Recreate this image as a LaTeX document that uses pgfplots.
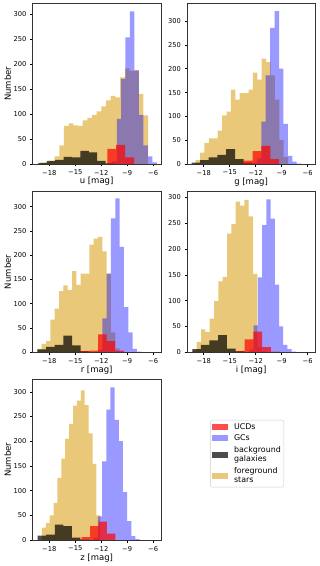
\documentclass[border=0pt]{standalone}
\usepackage{fontspec}
\setmainfont{DejaVu Sans}
\usepackage{pgfplots}
\pgfplotsset{compat=1.18}

\definecolor{fgstar}{RGB}{218,165,32}
\definecolor{ucdred}{RGB}{255,0,0}
\definecolor{gcblue}{RGB}{0,0,255}
\newcommand\ls{\rule[-2.3pt]{0pt}{7pt}}

\pgfplotsset{
  panel/.style={
    scale only axis, width=128.3pt, height=160.5pt,
    xmin=-19.93, xmax=-5.12, ymin=0,
    xtick={-18,-15,-12,-9,-6},
    xticklabels={−18,−15,−12,−9,−6},
    ytick={0,50,...,300},
    tick align=outside, tick pos=left,
    major tick length=2.5pt,
    tick style={black, line width=0.5pt},
    axis line style={black!80, line width=0.6pt},
    tick label style={font=\fontsize{6.7}{8}\selectfont},
    /pgf/number format/assume math mode=true,
    label style={font=\fontsize{8.5}{10}\selectfont},
    xlabel style={at={(rel axis cs:0.5,-0.11)}, anchor=center},
    ylabel style={at={(rel axis cs:-0.193,0.5)}, anchor=center},
    axis on top,
    legend image code/.code={\fill[##1, sharp corners] (0pt,-3pt) rectangle (16pt,3pt);},
  },
  fg/.style={ybar interval, fill=fgstar, fill opacity=0.6, draw=none},
  bg/.style={ybar interval, fill=black, fill opacity=0.7, draw=none},
  gc/.style={ybar interval, fill=gcblue, fill opacity=0.4, draw=none},
  ucd/.style={ybar interval, fill=ucdred, fill opacity=0.7, draw=none},
}

\begin{document}
\begin{tikzpicture}
\useasboundingbox (0,0) rectangle (320pt,566pt);

% u band
\begin{axis}[panel, at={(32.5pt,562.5pt)}, anchor=north west, ymax=321,
  xlabel={u [mag]}, ylabel={Number}]
\addplot[fg] coordinates {(-19.00,2)(-18.46,3)(-17.92,6)(-17.38,15)(-16.84,37)(-16.30,76)(-15.76,81)(-15.22,77)(-14.68,76)(-14.14,87)(-13.60,92)(-13.06,98)(-12.52,105)(-11.98,115)(-11.44,127)(-10.90,136)(-10.36,133)(-9.82,173)(-9.28,191)(-8.74,186)(-8.20,187)(-7.66,140)(-7.12,97)(-6.58,0)};
\addplot[bg] coordinates {(-19.25,2)(-18.28,6)(-17.31,8)(-16.34,14)(-15.37,13)(-14.40,26)(-13.43,23)(-12.46,6)(-11.49,1)(-10.52,0)};
\addplot[gc] coordinates {(-11.22,2)(-10.70,5)(-10.20,90)(-9.70,170)(-9.20,253)(-8.68,305)(-8.16,187)(-7.64,98)(-7.12,37)(-6.60,15)(-6.08,3)(-5.56,0)};
\addplot[ucd] coordinates {(-11.28,30)(-10.28,38)(-9.24,13)(-8.20,0)};
\end{axis}

% g band
\begin{axis}[panel, at={(187pt,562.5pt)}, anchor=north west, ymax=337,
  xlabel={g [mag]}]
\addplot[fg] coordinates {(-18.93,8)(-18.42,24)(-17.92,44)(-17.41,54)(-16.90,54)(-16.39,70)(-15.88,102)(-15.37,110)(-14.87,156)(-14.36,135)(-13.85,149)(-13.34,149)(-12.83,156)(-12.32,192)(-11.82,177)(-11.31,221)(-10.80,214)(-10.29,186)(-9.78,135)(-9.27,50)(-8.77,15)(-8.26,0)};
\addplot[bg] coordinates {(-19.39,3)(-18.42,8)(-17.44,14)(-16.42,19)(-15.40,31)(-14.38,10)(-13.40,3)(-12.40,0)};
\addplot[gc] coordinates {(-12.37,3)(-11.86,12)(-11.35,89)(-10.84,186)(-10.33,286)(-9.82,321)(-9.31,200)(-8.80,84)(-8.29,17)(-7.78,5)(-7.27,1)(-6.76,0)};
\addplot[ucd] coordinates {(-13.41,7)(-12.36,27)(-11.34,38)(-10.32,10)(-9.30,0)};
\end{axis}

% r band
\begin{axis}[panel, at={(32.5pt,374.3pt)}, anchor=north west, ymax=331,
  xlabel={r [mag]}, ylabel={Number}]
\addplot[fg] coordinates {(-19.37,7)(-18.87,17)(-18.37,23)(-17.87,67)(-17.37,90)(-16.87,126)(-16.37,138)(-15.87,128)(-15.37,167)(-14.87,139)(-14.37,162)(-13.87,162)(-13.37,222)(-12.87,234)(-12.37,238)(-11.87,208)(-11.37,162)(-10.87,41)(-10.37,8)(-9.87,0)};
\addplot[bg] coordinates {(-19.37,6)(-18.37,11)(-17.37,15)(-16.37,34)(-15.37,14)(-14.37,2)(-13.37,0)};
\addplot[gc] coordinates {(-12.37,5)(-11.87,70)(-11.37,162)(-10.87,276)(-10.37,317)(-9.87,217)(-9.37,93)(-8.87,41)(-8.37,7)(-7.87,1)(-7.37,0)};
\addplot[ucd] coordinates {(-14.34,2)(-13.35,3)(-12.36,37)(-11.37,23)(-10.38,3)(-9.38,0)};
\end{axis}

% i band
\begin{axis}[panel, at={(187pt,374.3pt)}, anchor=north west, ymax=311,
  xlabel={i [mag]}]
\addplot[fg] coordinates {(-19.31,3)(-18.81,20)(-18.31,44)(-17.81,39)(-17.31,65)(-16.81,99)(-16.31,137)(-15.81,146)(-15.31,230)(-14.81,248)(-14.31,292)(-13.81,284)(-13.31,295)(-12.81,263)(-12.31,152)(-11.81,10)(-11.31,2)(-10.81,0)};
\addplot[bg] coordinates {(-19.31,6)(-18.33,14)(-17.35,23)(-16.34,33)(-15.33,7)(-14.32,2)(-13.31,0)};
\addplot[gc] coordinates {(-12.74,5)(-12.25,52)(-11.76,145)(-11.27,246)(-10.78,296)(-10.29,259)(-9.80,131)(-9.31,50)(-8.82,14)(-8.33,6)(-7.84,1)(-7.35,0)};
\addplot[ucd] coordinates {(-14.30,2)(-13.29,25)(-12.28,40)(-11.27,10)(-10.26,1)(-9.25,0)};
\end{axis}

% z band, with the legend
\begin{axis}[panel, at={(32.5pt,186.5pt)}, anchor=north west, ymax=325,
  xlabel={z [mag]}, ylabel={Number},
  reverse legend, legend cell align=left,
  legend style={at={(1.385,0.748)}, anchor=north west,
    draw=black!20, rounded corners=2pt, fill=white, inner sep=2pt,
    row sep=2.2pt, column sep=4.7pt,
    font=\fontsize{7.9}{9.3}\selectfont,
    nodes={inner sep=1pt, align=left}}]
\addplot[fg] coordinates {(-18.85,25)(-18.40,34)(-17.95,50)(-17.50,75)(-17.05,126)(-16.60,165)(-16.15,205)(-15.70,235)(-15.25,272)(-14.80,282)(-14.35,303)(-13.90,273)(-13.45,216)(-13.00,154)(-12.55,50)(-12.10,0)};
\addlegendentry{\ls foreground\\\ls stars}
\addplot[bg] coordinates {(-19.35,9)(-18.35,11)(-17.36,31)(-16.37,28)(-15.38,5)(-14.39,1)(-13.40,0)};
\addlegendentry{\ls background\\\ls galaxies}
\addplot[gc] coordinates {(-12.85,5)(-12.37,48)(-11.89,159)(-11.41,264)(-10.93,309)(-10.45,243)(-9.97,200)(-9.49,97)(-9.01,38)(-8.53,8)(-8.05,2)(-7.57,0)};
\addlegendentry{\ls GCs}
\addplot[ucd] coordinates {(-15.22,1)(-14.25,6)(-13.28,28)(-12.31,37)(-11.34,13)(-10.37,0)};
\addlegendentry{\ls UCDs}
\end{axis}
\end{tikzpicture}
\end{document}
